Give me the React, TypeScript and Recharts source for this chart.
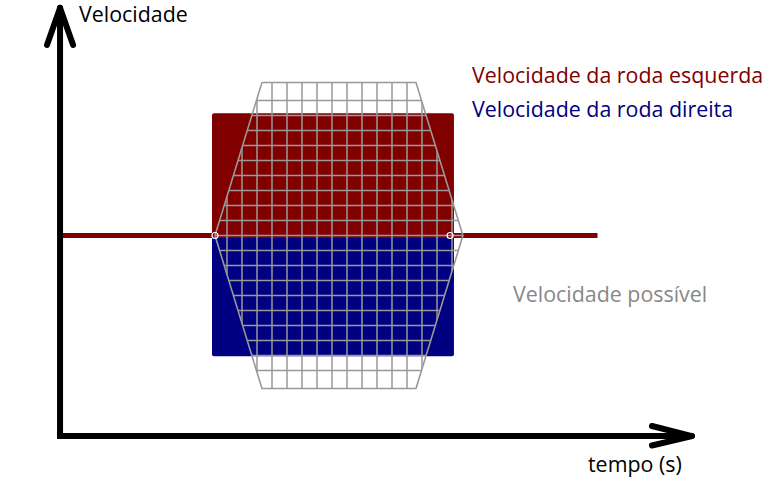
import { ComposedChart, XAxis, YAxis, Line, ReferenceArea, ReferenceLine, ReferenceDot } from 'recharts';

// tempo (s) / velocidade, em unidades da grade
const leftWheel = { t1: 10, t2: 26.13, v1: 0, v2: 8.15 };
const rightWheel = { t1: 10, t2: 26.13, v1: -8.05, v2: 0 };

const possibleTime = [13.33, 23.6, 26.73, 23.6, 13.33, 10.2, 13.33];
const possibleSpeed = [10.2, 10.2, 0, -10.2, -10.2, 0, 10.2];

const gridTimes = [11, 12, 13, 14, 15, 16, 17, 18, 19, 20, 21, 22, 23, 24, 25, 26];
const gridSpeeds = [-9, -8, -7, -6, -5, -4, -3, -2, -1, 0, 1, 2, 3, 4, 5, 6, 7, 8, 9];

const zeroLineTime = [0, 35.7];
const zeroLineSpeed = [0, 0];
const notchTimes = [10.2, 25.87];

const RED = '#800000';
const BLUE = '#000080';
const GREY = '#999999';

const hexData = possibleTime.map((t, i) => ({ t, v: possibleSpeed[i] }));
const zeroData = zeroLineTime.map((t, i) => ({ t, v: zeroLineSpeed[i] }));

// limites do hexagono para recortar a grade
const tMin = possibleTime[5];
const tTopL = possibleTime[0];
const tTopR = possibleTime[1];
const tMax = possibleTime[2];
const vMax = possibleSpeed[0];

function speedLimit(t: number) {
  if (t < tTopL) return (vMax * (t - tMin)) / (tTopL - tMin);
  if (t > tTopR) return (vMax * (tMax - t)) / (tMax - tTopR);
  return vMax;
}

function timeLimits(v: number): [number, number] {
  const k = Math.abs(v) / vMax;
  return [tMin + (tTopL - tMin) * k, tMax - (tMax - tTopR) * k];
}

const axisStyle = { stroke: '#000', strokeWidth: 6, ifOverflow: 'visible' as const };

export default function App() {
  return (
    <div style={{ position: 'absolute', left: 0, top: 0, width: 771, height: 499, background: '#fff' }}>
      <ComposedChart
        width={771}
        height={499}
        margin={{ top: 3, right: 49, left: 32, bottom: 53.5 }}
      >
        <XAxis type="number" dataKey="t" domain={[-2, 44]} hide allowDataOverflow />
        <YAxis type="number" dataKey="v" domain={[-14, 15.5]} hide allowDataOverflow />

        <ReferenceArea x1={leftWheel.t1} x2={leftWheel.t2} y1={leftWheel.v1} y2={leftWheel.v2} fill={RED} fillOpacity={1} radius={2} />
        <ReferenceArea x1={rightWheel.t1} x2={rightWheel.t2} y1={rightWheel.v1} y2={rightWheel.v2} fill={BLUE} fillOpacity={1} radius={2} />

        <Line data={zeroData} dataKey="v" stroke={RED} strokeWidth={5} dot={false} isAnimationActive={false} />
        {notchTimes.map((t) => (
          <ReferenceDot key={t} x={t} y={0} r={3} fill="none" stroke="#fff" strokeWidth={1.2} />
        ))}

        {gridTimes.map((t) => (
          <ReferenceLine
            key={'gt' + t}
            segment={[{ x: t, y: -speedLimit(t) }, { x: t, y: speedLimit(t) }]}
            stroke={GREY}
            strokeWidth={1.5}
          />
        ))}
        {gridSpeeds.map((v) => {
          const [a, b] = timeLimits(v);
          return (
            <ReferenceLine
              key={'gv' + v}
              segment={[{ x: a, y: v }, { x: b, y: v }]}
              stroke={GREY}
              strokeWidth={1.5}
            />
          );
        })}
        <Line data={hexData} dataKey="v" stroke={GREY} strokeWidth={1.6} dot={false} isAnimationActive={false} />

        {/* eixos com setas */}
        <ReferenceLine segment={[{ x: -0.13, y: -13.5 }, { x: -0.13, y: 15.1 }]} {...axisStyle} />
        <ReferenceLine segment={[{ x: -0.33, y: -13.37 }, { x: 41.9, y: -13.37 }]} {...axisStyle} />
        <ReferenceLine segment={[{ x: -1.0, y: 12.7 }, { x: -0.13, y: 15.17 }]} {...axisStyle} strokeLinecap="round" />
        <ReferenceLine segment={[{ x: 0.74, y: 12.7 }, { x: -0.13, y: 15.17 }]} {...axisStyle} strokeLinecap="round" />
        <ReferenceLine segment={[{ x: 39.33, y: -12.7 }, { x: 42, y: -13.37 }]} {...axisStyle} strokeLinecap="round" />
        <ReferenceLine segment={[{ x: 39.33, y: -14.0 }, { x: 42, y: -13.37 }]} {...axisStyle} strokeLinecap="round" />
      </ComposedChart>

      <svg width={771} height={499} style={{ position: 'absolute', left: 0, top: 0, pointerEvents: 'none' }}>
        <g fontFamily="'Open Sans', sans-serif" fontSize={21.4}>
          <text x={79} y={22} fill="#000">Velocidade</text>
          <text x={472} y={83} fill={RED}>Velocidade da roda esquerda</text>
          <text x={472} y={117} fill={BLUE}>Velocidade da roda direita</text>
          <text x={513} y={302} fill="#888888">Velocidade possível</text>
          <text x={588} y={472} fill="#000">tempo (s)</text>
        </g>
      </svg>
    </div>
  );
}
